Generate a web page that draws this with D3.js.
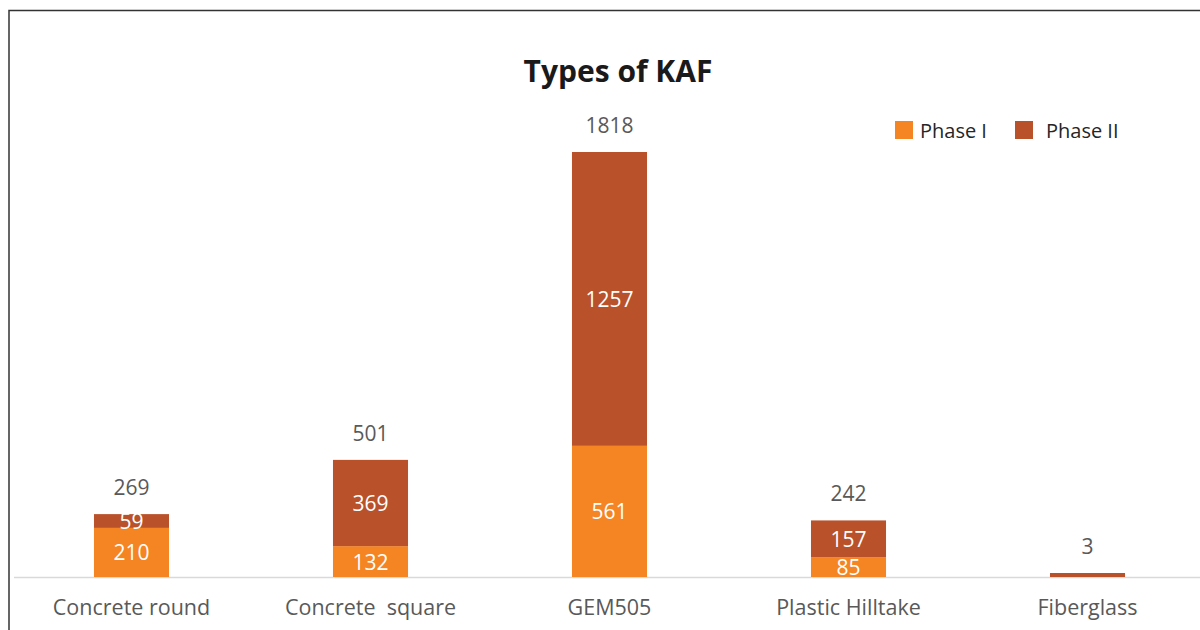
<!DOCTYPE html>
<html><head><meta charset="utf-8">
<script src="https://cdn.jsdelivr.net/npm/d3@7"></script>
<style>body{margin:0;background:#fff;}svg{display:block;}</style>
</head><body>
<svg id="c" width="1200" height="630"></svg>
<script>
const categories = ["Concrete round", "Concrete  square", "GEM505", "Plastic Hilltake", "Fiberglass"];
const phase1 = [210, 132, 561, 85, 0];
const phase2 = [59, 369, 1257, 157, 3];
const seriesNames = ["Phase I", "Phase II"];
const colors = ["#F58423", "#B9512A"];

const svg = d3.select("#c");
const font = "'Open Sans', 'Liberation Sans', sans-serif";

// frame
svg.append("path").attr("d", "M9,630 V10.5 H1200").attr("fill", "none").attr("stroke", "#333").attr("stroke-width", 1.5);

const x = d3.scaleBand().domain(categories).range([12, 1207]).paddingInner(0.686).paddingOuter(0.343);
const baseY = 577;
const y = d3.scaleLinear().domain([0, 1818]).range([baseY, 152]);
const minH = 4;

const data = categories.map((c, i) => ({cat: c, v: [phase1[i], phase2[i]]}));
const stack = d3.stack().keys([0, 1]).value((d, k) => d.v[k])(data);

// axis line
svg.append("line").attr("x1", 14).attr("x2", 1200).attr("y1", baseY + 0.5).attr("y2", baseY + 0.5)
  .attr("stroke", "#d9d9d9").attr("stroke-width", 1.5);

const topY = d => {
  const h = y(d[0]) - y(d[1]);
  return (h > 0 && h < minH) ? y(d[0]) - minH : y(d[1]);
};

stack.forEach((layer, k) => {
  svg.append("g").selectAll("rect").data(layer).join("rect")
    .attr("x", d => x(d.data.cat))
    .attr("width", x.bandwidth())
    .attr("y", d => topY(d))
    .attr("height", d => y(d[0]) - topY(d))
    .attr("fill", colors[k]);
  svg.append("g").selectAll("text").data(layer.filter(d => d[1] - d[0] >= 50)).join("text")
    .attr("x", d => x(d.data.cat) + x.bandwidth() / 2)
    .attr("y", d => (y(d[0]) + y(d[1])) / 2 + 8)
    .attr("text-anchor", "middle").attr("fill", "#fff")
    .style("font-family", font).style("font-size", "21px")
    .text(d => d[1] - d[0]);
});

// totals
svg.append("g").selectAll("text").data(data).join("text")
  .attr("x", d => x(d.cat) + x.bandwidth() / 2)
  .attr("y", d => Math.min(y(d.v[0] + d.v[1]), baseY - minH) - 19)
  .attr("text-anchor", "middle").attr("fill", "#595959")
  .style("font-family", font).style("font-size", "21px")
  .text(d => d.v[0] + d.v[1]);

// category labels
const xAxis = d3.axisBottom(x).tickSize(0).tickPadding(0);
const ax = svg.append("g").attr("transform", `translate(0,${baseY})`).call(xAxis);
ax.select(".domain").remove();
ax.selectAll("text").attr("dy", null).attr("y", 38).attr("fill", "#595959")
  .style("font-family", font).style("font-size", "21.5px").style("white-space", "pre");

// title
svg.append("text").attr("x", 618).attr("y", 82).attr("text-anchor", "middle")
  .attr("fill", "#1a1a1a").style("font-family", font).style("font-size", "30px").style("font-weight", "bold")
  .text("Types of KAF");

// legend
const legX = [895, 1015];
const lg = svg.append("g").selectAll("g").data(seriesNames).join("g")
  .attr("transform", (d, i) => `translate(${legX[i]},121)`);
lg.append("rect").attr("width", 18).attr("height", 18).attr("fill", (d, i) => colors[i]);
lg.append("text").attr("x", (d, i) => i === 0 ? 25 : 31).attr("y", 17)
  .attr("fill", "#262626").style("font-family", font).style("font-size", "20px").text(d => d);
</script>
</body></html>
